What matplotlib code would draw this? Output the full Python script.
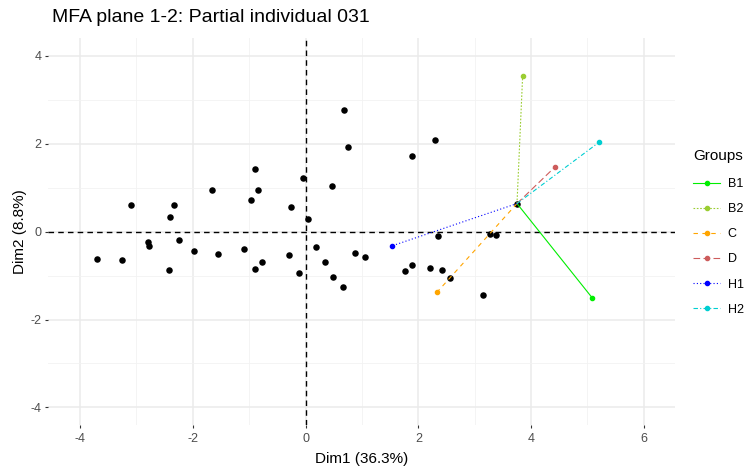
import matplotlib
matplotlib.use("Agg")
import matplotlib.pyplot as plt
from matplotlib.lines import Line2D

plt.rcParams['font.family'] = ['Liberation Sans', 'DejaVu Sans']
plt.rcParams['axes.unicode_minus'] = False

# Individuals (black points)
ind_x = [-3.70, -3.25, -3.10, -2.79, -2.77, -2.42, -2.41, -2.33, -2.25, -1.98,
         -1.66, -1.56, -1.10, -0.96, -0.90, -0.85, -0.90, -0.77, -0.29, -0.25,
         -0.12, -0.05, 0.04, 0.19, 0.69, 0.75, 0.46, 2.29, 1.88, 0.87,
         1.06, 0.34, 0.48, 0.67, 1.76, 1.88, 2.20, 2.42, 2.56, 2.35,
         3.27, 3.37, 3.14, 3.75]
ind_y = [-0.62, -0.65, 0.61, -0.23, -0.33, -0.87, 0.34, 0.61, -0.18, -0.43,
         0.95, -0.50, -0.40, 0.73, 1.43, 0.95, -0.85, -0.70, -0.52, 0.56,
         -0.93, 1.23, 0.29, -0.36, 2.78, 1.92, 1.03, 2.09, 1.72, -0.48,
         -0.57, -0.70, -1.04, -1.26, -0.89, -0.75, -0.82, -0.87, -1.05, -0.11,
         -0.05, -0.08, -1.44, 0.64]

# Partial individual 031
center_x = 3.75
center_y = 0.64
groups = ["B1", "B2", "C", "D", "H1", "H2"]
group_x = [5.08, 3.85, 2.33, 4.43, 1.54, 5.20]
group_y = [-1.50, 3.54, -1.38, 1.48, -0.32, 2.03]

colors = ["#00EE00", "#9ACD32", "#FFA500", "#CD5C5C", "#0000FF", "#00CED1"]
dashes = [None, (1.5, 1.5), (4, 4), (6, 3), (1, 2), (4, 2, 1, 2)]

fig = plt.figure(figsize=(7.49, 4.68), dpi=100)
ax = fig.add_axes([0.064, 0.092, 0.837, 0.826])

ax.set_xlim(-4.57, 6.55)
ax.set_ylim(-4.40, 4.40)

ax.set_xticks([-4, -2, 0, 2, 4, 6])
ax.set_yticks([-4, -2, 0, 2, 4])
ax.set_xticks([-3, -1, 1, 3, 5], minor=True)
ax.set_yticks([-3, -1, 1, 3], minor=True)
ax.grid(True, which='major', color='#EBEBEB', linewidth=1.1)
ax.grid(True, which='minor', color='#F2F2F2', linewidth=0.6)
ax.set_axisbelow(True)
for s in ax.spines.values():
    s.set_visible(False)
ax.tick_params(which='major', length=2.5, width=0.8, color='#333333',
               labelcolor='#4D4D4D', labelsize=9, pad=2)
ax.tick_params(axis='x', which='major', pad=3)
ax.tick_params(which='minor', length=0)

ax.axhline(0, color='black', linestyle=(0, (4, 3)), linewidth=1.0, zorder=1)
ax.axvline(0, color='black', linestyle=(0, (4, 3)), linewidth=1.0, zorder=1)

ax.scatter(ind_x, ind_y, s=22, color='black', zorder=2, linewidths=0)

handles = []
for g, gx, gy, c, d in zip(groups, group_x, group_y, colors, dashes):
    ln, = ax.plot([center_x, gx], [center_y, gy], color=c, linewidth=0.8, zorder=3)
    if d is not None:
        ln.set_dashes(d)
    ax.plot([gx], [gy], marker='o', markersize=3, color=c, linestyle='none', zorder=4)
    h = Line2D([0], [0], color=c, linewidth=0.8, marker='o', markersize=3)
    if d is not None:
        h.set_dashes(d)
    handles.append(h)

ax.set_xlabel("Dim1 (36.3%)", fontsize=11, labelpad=5)
ax.set_ylabel("Dim2 (8.8%)", fontsize=11, labelpad=3)
fig.text(0.069, 0.962, "MFA plane 1-2: Partial individual 031", fontsize=14,
         ha='left', va='center')

leg = fig.legend(handles, groups, loc='upper left', bbox_to_anchor=(0.925, 0.682),
                 title="Groups", frameon=False, fontsize=9, title_fontsize=11,
                 handlelength=2.2, labelspacing=1.05, handletextpad=0.6,
                 borderaxespad=0, borderpad=0)
leg._legend_box.align = "left"
leg._legend_box.sep = 11

fig.savefig("out.png", dpi=100)
